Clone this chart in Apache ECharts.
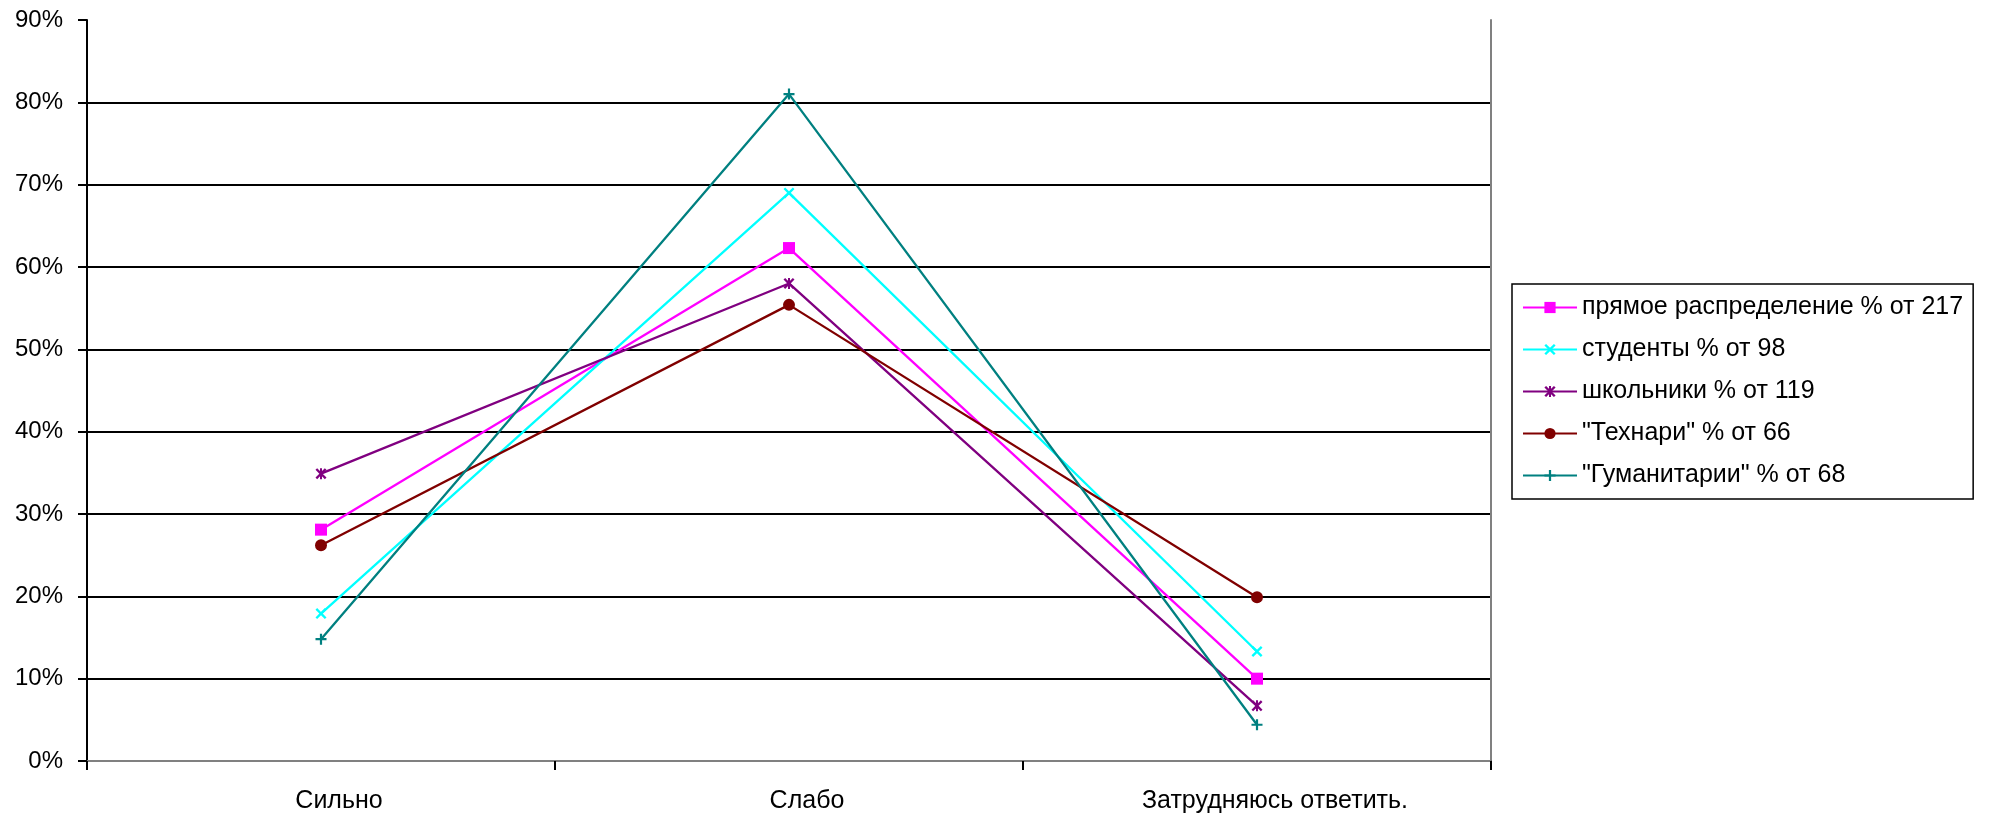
<!DOCTYPE html>
<html>
<head>
<meta charset="utf-8">
<script src="https://cdn.jsdelivr.net/npm/echarts@6/dist/echarts.min.js"></script>
<style>
html, body { margin: 0; padding: 0; background: #ffffff; }
#chart { width: 1992px; height: 816px; }
</style>
</head>
<body>
<div id="chart"></div>
<script>
// ---- data ----
const categories = ['Сильно', 'Слабо', 'Затрудняюсь ответить.'];
const seriesNames = [
  'прямое распределение % от 217',
  'студенты % от 98',
  'школьники % от 119',
  '"Технари" % от 66',
  '"Гуманитарии" % от 68'
];
const pryamoe = [28.1, 62.3, 10.0];
const studenty = [17.9, 69.0, 13.3];
const shkolniki = [34.9, 58.0, 6.7];
const tehnari = [26.2, 55.4, 19.9];
const gumanitarii = [14.8, 81.0, 4.4];
const yMin = 0, yMax = 90, yStep = 10;

// ---- styles ----
const FONT = '"Liberation Sans", Arial, sans-serif';
const colors = ['#FF00FF', '#00FFFF', '#800080', '#800000', '#008080'];
const X_PATH = 'path://M0,1.5L1.5,0L5,3.5L8.5,0L10,1.5L6.5,5L10,8.5L8.5,10L5,6.5L1.5,10L0,8.5L3.5,5Z';
const STAR_PATH = 'path://M0,1.5L1.5,0L5,3.5L8.5,0L10,1.5L6.5,5L10,8.5L8.5,10L5,6.5L1.5,10L0,8.5L3.5,5Z M4.1,0L5.9,0L5.9,10L4.1,10Z';
const PLUS_PATH = 'path://M4,0L6,0L6,4L10,4L10,6L6,6L6,10L4,10L4,6L0,6L0,4L4,4Z';
const symbols = ['rect', X_PATH, STAR_PATH, 'circle', PLUS_PATH];
const symbolSizes = [12, 11, 11, 12, 11];
const dataArrays = [pryamoe, studenty, shkolniki, tehnari, gumanitarii];

const series = seriesNames.map((name, i) => ({
  name: name,
  type: 'line',
  xAxisIndex: 0,
  yAxisIndex: 0,
  data: dataArrays[i],
  symbol: symbols[i],
  symbolSize: symbolSizes[i],
  showAllSymbol: true,
  lineStyle: { color: colors[i], width: 2.3 },
  itemStyle: { color: colors[i], borderColor: colors[i], borderWidth: 0 },
  emphasis: { disabled: true },
  animation: false
}));

const chart = echarts.init(document.getElementById('chart'), null, { renderer: 'canvas' });
chart.setOption({
  backgroundColor: '#ffffff',
  animation: false,
  grid: { left: 87, right: 501, top: 20, bottom: 55, containLabel: false },
  legend: {
    orient: 'vertical',
    left: 1512,
    top: 284,
    padding: [11, 10, 11, 10],
    itemGap: 17,
    itemWidth: 54,
    itemHeight: 14,
    borderColor: '#000000',
    borderWidth: 1.5,
    backgroundColor: '#ffffff',
    selectedMode: false,
    textStyle: { fontFamily: FONT, fontSize: 25, color: '#000000', lineHeight: 25 },
    data: seriesNames
  },
  xAxis: [{
    type: 'category',
    data: categories,
    boundaryGap: true,
    position: 'bottom',
    axisLine: { show: true, lineStyle: { color: '#000000', width: 2 } },
    axisTick: { show: true, interval: 0, length: 9, lineStyle: { color: '#000000', width: 2 } },
    axisLabel: { interval: 0, margin: 28, fontFamily: FONT, fontSize: 25, color: '#000000', padding: [0, 0, 0, 36] },
    splitLine: { show: false }
  }, {
    type: 'category',
    data: categories,
    position: 'top',
    axisLine: { show: true, lineStyle: { color: '#808080', width: 2 } },
    axisTick: { show: false },
    axisLabel: { show: false },
    splitLine: { show: false }
  }],
  yAxis: [{
    type: 'value',
    min: yMin,
    max: yMax,
    interval: yStep,
    position: 'left',
    axisLine: { show: true, lineStyle: { color: '#000000', width: 2 } },
    axisTick: { show: true, length: 9, lineStyle: { color: '#000000', width: 2 } },
    axisLabel: { margin: 24, fontFamily: FONT, fontSize: 24, color: '#000000', formatter: '{value}%' },
    splitLine: { show: true, showMinLine: false, showMaxLine: false, lineStyle: { color: '#000000', width: 2 } }
  }, {
    type: 'value',
    min: yMin,
    max: yMax,
    interval: yStep,
    position: 'right',
    axisLine: { show: true, lineStyle: { color: '#808080', width: 2 } },
    axisTick: { show: false },
    axisLabel: { show: false },
    splitLine: { show: false }
  }],
  series: series
});
</script>
</body>
</html>
